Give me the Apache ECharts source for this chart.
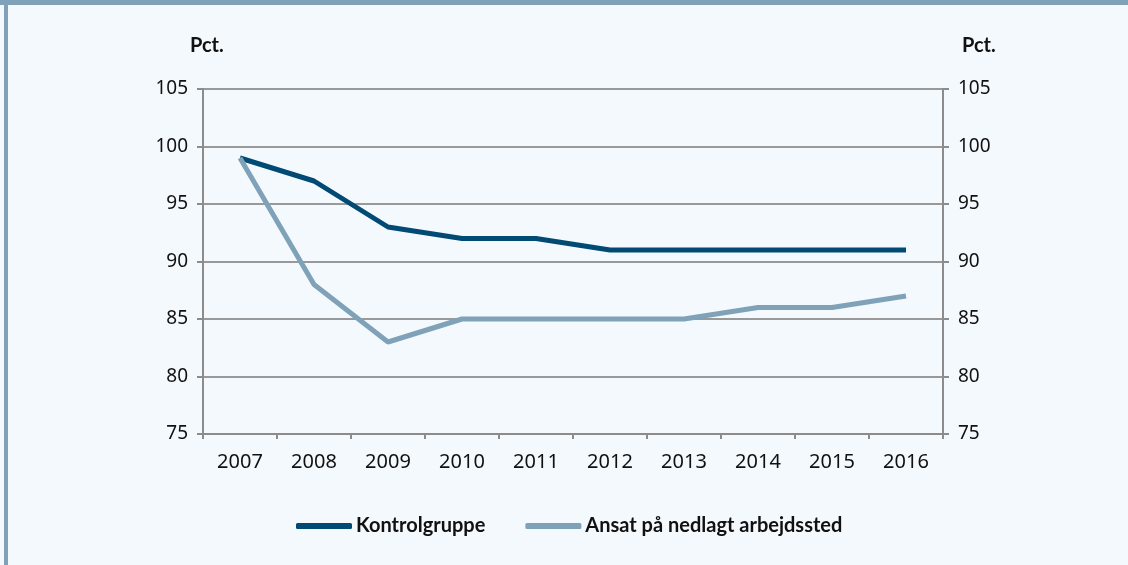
<!DOCTYPE html>
<html>
<head>
<meta charset="utf-8">
<script src="https://cdn.jsdelivr.net/npm/echarts@6/dist/echarts.min.js"></script>
<style>
  html, body { margin: 0; padding: 0; background: #f4f9fe; }
  #chart { width: 1128px; height: 565px; }
</style>
</head>
<body>
<div id="chart"></div>
<script>
// data
var years = ['2007', '2008', '2009', '2010', '2011', '2012', '2013', '2014', '2015', '2016']
var kontrolgruppe = [99, 97, 93, 92, 92, 91, 91, 91, 91, 91]
var nedlagt = [99, 88, 83, 85, 85, 85, 85, 86, 86, 87]
var seriesNames = ['Kontrolgruppe', 'Ansat på nedlagt arbejdssted']

var dark = '#004a73'
var light = '#7fa2b8'
var axisGray = '#8c8c8c'

var chart = echarts.init(document.getElementById('chart'))

var yAxisBase = {
  type: 'value',
  min: 75,
  max: 105,
  interval: 5,
  axisLine: { show: true, lineStyle: { color: axisGray, width: 2 } },
  axisTick: { show: true, length: 6, lineStyle: { color: axisGray, width: 2 } },
  axisLabel: { color: '#111', fontFamily: 'Noto Sans', fontSize: 19, margin: 15 }
}

var option = {
  backgroundColor: '#f4f9fe',
  animation: false,
  grid: { left: 203, right: 185, top: 89, bottom: 131 },
  graphic: [
    { type: 'rect', shape: { x: 0, y: 0, width: 1128, height: 5 }, style: { fill: light } },
    { type: 'rect', shape: { x: 4, y: 0, width: 4, height: 565 }, style: { fill: light } },
    { type: 'text', left: 190, top: 36, style: { text: 'Pct.', fill: '#111', font: 'bold 20px Lato' } },
    { type: 'text', left: 962, top: 36, style: { text: 'Pct.', fill: '#111', font: 'bold 20px Lato' } }
  ],
  legend: {
    left: 291,
    top: 511,
    itemWidth: 56,
    itemHeight: 6,
    itemGap: 40,
    icon: 'roundRect',
    textStyle: { color: '#111', fontFamily: 'Lato', fontWeight: 'bold', fontSize: 20, padding: [0, 0, 0, -1] },
    data: seriesNames
  },
  xAxis: {
    type: 'category',
    data: years,
    boundaryGap: true,
    axisLine: { lineStyle: { color: axisGray, width: 2 } },
    axisTick: { show: true, length: 5, lineStyle: { color: axisGray, width: 2 } },
    axisLabel: { color: '#111', fontFamily: 'Noto Sans', fontSize: 20, margin: 18 }
  },
  yAxis: [
    Object.assign({}, yAxisBase, {
      position: 'left',
      splitLine: { show: true, lineStyle: { color: '#999', width: 2 } }
    }),
    Object.assign({}, yAxisBase, {
      position: 'right',
      splitLine: { show: false }
    })
  ],
  series: [
    {
      name: seriesNames[0],
      type: 'line',
      data: kontrolgruppe,
      symbol: 'none',
      color: dark,
      lineStyle: { width: 5, color: dark }
    },
    {
      name: seriesNames[1],
      type: 'line',
      data: nedlagt,
      symbol: 'none',
      color: light,
      lineStyle: { width: 5, color: light }
    }
  ]
}

chart.setOption(option)
</script>
</body>
</html>
